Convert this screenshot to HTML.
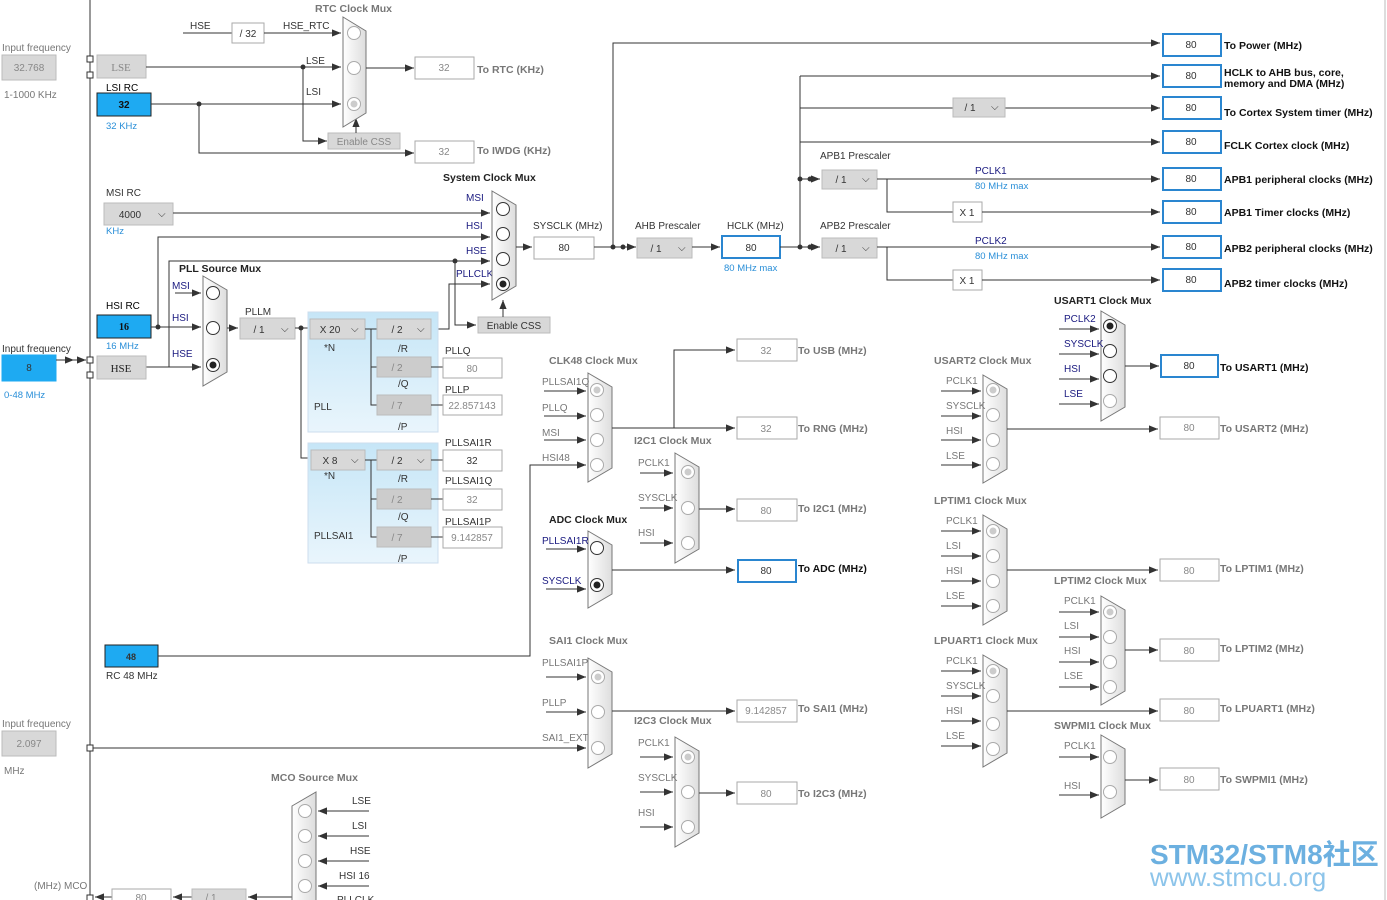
<!DOCTYPE html>
<html><head><meta charset="utf-8"><style>
html,body{margin:0;padding:0;background:#fff;}
svg{display:block;font-family:"Liberation Sans","Noto Sans CJK SC",sans-serif;}
.t{font-size:10px;fill:#333}
.g{font-size:10px;fill:#777}
.b{font-size:10px;fill:#1a1a80}
.lb{font-size:9.5px;fill:#2a8fd8}
.tt{font-size:10.5px;font-weight:bold;fill:#222}
.tg{font-size:10.5px;font-weight:bold;fill:#777}
.ob{font-size:10.5px;font-weight:bold;fill:#111}
.og{font-size:10.5px;font-weight:bold;fill:#777}
.v{font-size:10px;fill:#333;text-anchor:middle}
.vg{font-size:10px;fill:#888;text-anchor:middle}
line,polyline{stroke:#333;stroke-width:1;fill:none}
.mux{fill:url(#mg);stroke:#777;stroke-width:1}
.c{fill:#fff;stroke:#333;stroke-width:1}
.cg{fill:#fff;stroke:#aaa;stroke-width:1}
.box{fill:#fff;stroke:#aaa}
.bbox{fill:#fff;stroke:#2a86d0;stroke-width:2}
.gbox{fill:#d8d8d8;stroke:#bbb}
.blue{fill:#1eaaf2;stroke:#222}
</style></head><body>
<svg width="1387" height="900" viewBox="0 0 1387 900">
<defs>
<marker id="a" viewBox="0 0 10 10" refX="10" refY="5" markerWidth="9" markerHeight="9" markerUnits="userSpaceOnUse" orient="auto"><path d="M0,1 L10,5 L0,9 z" fill="#333"/></marker>
<linearGradient id="mg" x1="0" x2="1"><stop offset="0" stop-color="#fff"/><stop offset="1" stop-color="#ddd"/></linearGradient>
<linearGradient id="pg" x1="0" y1="0" x2="0" y2="1"><stop offset="0" stop-color="#c6e6f7"/><stop offset="1" stop-color="#e9f5fc"/></linearGradient>
</defs>
<line x1="90" y1="0" x2="90" y2="900"/>
<line x1="1385" y1="0" x2="1385" y2="900" style="stroke:#bbb"/>

<text class="g" x="2" y="51">Input frequency</text>
<rect class="gbox" x="2" y="55" width="54" height="25"/><text class="vg" x="29" y="71">32.768</text>
<text class="g" x="4" y="98">1-1000 KHz</text>
<rect x="87" y="56" width="6" height="6" fill="#fff" stroke="#333"/><rect x="87" y="72" width="6" height="6" fill="#fff" stroke="#333"/>
<rect class="gbox" x="97" y="55" width="49" height="23"/><text x="121" y="71" style="font-family:'Liberation Serif',serif;font-size:11px;fill:#888" text-anchor="middle">LSE</text>
<text class="t" x="106" y="91" style="fill:#000">LSI RC</text>
<rect class="blue" x="97" y="93" width="54" height="23"/><text class="v" x="124" y="108" style="font-weight:bold;fill:#111">32</text>
<text class="lb" x="106" y="129">32 KHz</text>

<text class="t" x="190" y="29">HSE</text>
<line x1="183" y1="33" x2="232" y2="33"/>
<rect class="box" x="232" y="23" width="32" height="20"/><text class="v" x="248" y="37">/ 32</text>
<text class="t" x="283" y="29">HSE_RTC</text>
<line x1="264" y1="33" x2="341" y2="33" marker-end="url(#a)"/>
<line x1="146" y1="67" x2="341" y2="67" marker-end="url(#a)"/>
<circle cx="303" cy="67" r="2.5" fill="#333"/>
<text class="t" x="306" y="64">LSE</text>
<polyline points="303,67 303,141 327,141" marker-end="url(#a)"/>
<line x1="151" y1="104" x2="341" y2="104" marker-end="url(#a)"/>
<circle cx="199" cy="104" r="2.5" fill="#333"/>
<text class="t" x="306" y="95">LSI</text>
<polyline points="199,104 199,153 414,153" marker-end="url(#a)"/>
<rect class="gbox" x="328" y="133" width="72" height="16"/><text class="vg" x="364" y="145">Enable CSS</text>
<line x1="356" y1="133" x2="356" y2="118" marker-end="url(#a)"/>
<text class="tg" x="315" y="12">RTC Clock Mux</text>
<polygon class="mux" points="343,17 366,31 366,113 343,127"/>
<circle class="cg" cx="354" cy="33" r="6.5"/><circle class="cg" cx="354" cy="68" r="6.5"/><circle class="cg" cx="354" cy="104" r="6.5"/><circle cx="354" cy="104" r="3.5" fill="#ccc"/>
<line x1="366" y1="68" x2="414" y2="68" marker-end="url(#a)"/>
<rect class="box" x="415" y="57" width="59" height="22"/><text class="vg" x="444" y="71">32</text>
<text class="og" x="477" y="73">To RTC (KHz)</text>
<rect class="box" x="415" y="141" width="59" height="22"/><text class="vg" x="444" y="155">32</text>
<text class="og" x="477" y="154">To IWDG (KHz)</text>

<text class="t" x="106" y="196">MSI RC</text>
<rect class="gbox" x="104" y="203" width="69" height="22"/><text class="v" x="130" y="218">4000</text><text class="t" x="158" y="217">⌵</text>
<text class="lb" x="106" y="234">KHz</text>
<line x1="173" y1="213" x2="490" y2="213" marker-end="url(#a)"/>
<text class="b" x="466" y="201">MSI</text>
<polyline points="158,327 158,237 490,237" marker-end="url(#a)"/>
<text class="b" x="466" y="229">HSI</text>
<polyline points="146,367 169,367 169,261 490,261" marker-end="url(#a)"/>
<text class="b" x="466" y="254">HSE</text>
<circle cx="455" cy="261" r="2.5" fill="#333"/>
<polyline points="455,261 455,325 476,325" marker-end="url(#a)"/>
<rect class="gbox" x="478" y="317" width="72" height="16"/><text class="v" x="514" y="329">Enable CSS</text>
<polyline points="431,329 449,329 449,284 490,284" marker-end="url(#a)"/>
<text class="b" x="456" y="277">PLLCLK</text>
<line x1="503" y1="317" x2="503" y2="300" marker-end="url(#a)"/>
<text class="tt" x="443" y="181">System Clock Mux</text>
<polygon class="mux" points="492,191 516,205 516,286 492,300"/>
<circle class="c" cx="503" cy="209" r="6.5"/><circle class="c" cx="503" cy="234" r="6.5"/><circle class="c" cx="503" cy="259" r="6.5"/><circle class="c" cx="503" cy="284" r="6.5"/><circle cx="503" cy="284" r="3.5" fill="#222"/>

<text class="t" x="106" y="309" style="fill:#000">HSI RC</text>
<rect class="blue" x="97" y="315" width="54" height="23"/><text class="v" x="124" y="330" style="font-weight:bold;fill:#111;font-family:'Liberation Serif',serif">16</text>
<text class="lb" x="106" y="349">16 MHz</text>
<line x1="151" y1="327" x2="201" y2="327" marker-end="url(#a)"/>
<circle cx="158" cy="327" r="2.5" fill="#333"/>
<line x1="175" y1="293" x2="201" y2="293" marker-end="url(#a)"/>
<text class="b" x="172" y="289">MSI</text><text class="b" x="172" y="321">HSI</text><text class="b" x="172" y="357">HSE</text>
<line x1="146" y1="367" x2="201" y2="367" marker-end="url(#a)"/>
<text class="g" x="2" y="352" style="fill:#333">Input frequency</text>
<rect class="blue" x="2" y="355" width="54" height="26" style="stroke:#1eaaf2"/><text class="v" x="29" y="371">8</text>
<text class="lb" x="4" y="398">0-48 MHz</text>
<line x1="56" y1="360" x2="74" y2="360" marker-end="url(#a)"/><line x1="70" y1="360" x2="86" y2="360" marker-end="url(#a)"/>
<rect x="87" y="357" width="6" height="6" fill="#fff" stroke="#333"/><rect x="87" y="372" width="6" height="6" fill="#fff" stroke="#333"/>
<rect class="gbox" x="97" y="356" width="49" height="23"/><text x="121" y="372" style="font-family:'Liberation Serif',serif;font-size:11px;fill:#222" text-anchor="middle">HSE</text>
<text class="tt" x="179" y="272">PLL Source Mux</text>
<polygon class="mux" points="203,276 227,290 227,372 203,386"/>
<circle class="c" cx="213" cy="293" r="6.5"/><circle class="c" cx="213" cy="328" r="6.5"/><circle class="c" cx="213" cy="365" r="6.5"/><circle cx="213" cy="365" r="3.5" fill="#222"/>
<line x1="227" y1="328" x2="238" y2="328" marker-end="url(#a)"/>
<text class="t" x="245" y="315">PLLM</text>
<rect class="gbox" x="240" y="318" width="55" height="21"/><text class="v" x="259" y="333">/ 1</text><text class="t" x="281" y="332">⌵</text>
<line x1="295" y1="328" x2="310" y2="328"/><circle cx="301" cy="328" r="2.5" fill="#333"/>
<polyline points="301,328 301,458 311,458"/>

<rect x="308" y="312" width="130" height="120" fill="url(#pg)" stroke="#cde"/>
<rect x="308" y="443" width="130" height="120" fill="url(#pg)" stroke="#cde"/>
<rect class="gbox" x="310" y="319" width="55" height="20"/><text class="v" x="330" y="333">X 20</text><text class="t" x="351" y="332">⌵</text>
<polyline points="365,329 377,329"/><polyline points="371,329 371,405 377,405"/><line x1="371" y1="367" x2="377" y2="367"/>
<rect class="gbox" x="377" y="319" width="54" height="20"/><text class="v" x="397" y="333">/ 2</text><text class="t" x="417" y="332">⌵</text>
<rect class="gbox" x="377" y="357" width="54" height="20" style="fill:#ccc"/><text class="vg" x="397" y="371">/ 2</text>
<rect class="gbox" x="377" y="395" width="54" height="20" style="fill:#ccc"/><text class="vg" x="397" y="409">/ 7</text>
<text class="t" x="324" y="351">*N</text><text class="t" x="398" y="352">/R</text><text class="t" x="398" y="387">/Q</text><text class="t" x="398" y="430">/P</text>
<text class="t" x="314" y="410">PLL</text>
<line x1="431" y1="367" x2="443" y2="367"/><line x1="431" y1="405" x2="443" y2="405"/>
<text class="t" x="445" y="354">PLLQ</text><rect class="box" x="443" y="358" width="59" height="20"/><text class="vg" x="472" y="372">80</text>
<text class="t" x="445" y="393">PLLP</text><rect class="box" x="443" y="395" width="59" height="20"/><text class="vg" x="472" y="409">22.857143</text>
<rect class="gbox" x="311" y="450" width="54" height="20"/><text class="v" x="330" y="464">X 8</text><text class="t" x="351" y="463">⌵</text>
<polyline points="365,460 377,460"/><polyline points="371,460 371,537 377,537"/><line x1="371" y1="499" x2="377" y2="499"/>
<rect class="gbox" x="377" y="450" width="54" height="20"/><text class="v" x="397" y="464">/ 2</text><text class="t" x="417" y="463">⌵</text>
<rect class="gbox" x="377" y="489" width="54" height="20" style="fill:#ccc"/><text class="vg" x="397" y="503">/ 2</text>
<rect class="gbox" x="377" y="527" width="54" height="20" style="fill:#ccc"/><text class="vg" x="397" y="541">/ 7</text>
<text class="t" x="324" y="479">*N</text><text class="t" x="398" y="482">/R</text><text class="t" x="398" y="520">/Q</text><text class="t" x="398" y="562">/P</text>
<text class="t" x="314" y="539">PLLSAI1</text>
<line x1="431" y1="460" x2="443" y2="460"/><line x1="431" y1="499" x2="443" y2="499"/><line x1="431" y1="537" x2="443" y2="537"/>
<text class="t" x="445" y="446">PLLSAI1R</text><rect class="box" x="443" y="450" width="59" height="21"/><text class="v" x="472" y="464">32</text>
<text class="t" x="445" y="484">PLLSAI1Q</text><rect class="box" x="443" y="489" width="59" height="21"/><text class="vg" x="472" y="503">32</text>
<text class="t" x="445" y="525">PLLSAI1P</text><rect class="box" x="443" y="527" width="59" height="21"/><text class="vg" x="472" y="541">9.142857</text>

<line x1="516" y1="247" x2="532" y2="247" marker-end="url(#a)"/>
<text class="t" x="533" y="229">SYSCLK (MHz)</text>
<rect class="box" x="534" y="237" width="60" height="22"/><text class="v" x="564" y="251">80</text>
<line x1="594" y1="247" x2="636" y2="247" marker-end="url(#a)"/>
<circle cx="613" cy="247" r="2.5" fill="#333"/><circle cx="623" cy="247" r="2.5" fill="#333"/>
<polyline points="613,247 613,43 1160,43" marker-end="url(#a)"/>
<text class="t" x="635" y="229">AHB Prescaler</text>
<rect class="gbox" x="637" y="238" width="55" height="20"/><text class="v" x="656" y="252">/ 1</text><text class="t" x="678" y="251">⌵</text>
<line x1="692" y1="247" x2="720" y2="247" marker-end="url(#a)"/>
<text class="t" x="727" y="229">HCLK (MHz)</text>
<rect class="bbox" x="722" y="236" width="58" height="22"/><text class="v" x="751" y="251">80</text>
<text class="lb" x="724" y="271">80 MHz max</text>
<line x1="780" y1="247" x2="820" y2="247" marker-end="url(#a)"/>
<circle cx="800" cy="247" r="2.5" fill="#333"/><circle cx="810" cy="247" r="2.5" fill="#333"/>
<line x1="800" y1="247" x2="800" y2="76"/>
<line x1="800" y1="76" x2="1160" y2="76" marker-end="url(#a)"/>
<line x1="800" y1="108" x2="953" y2="108"/><line x1="1005" y1="108" x2="1160" y2="108" marker-end="url(#a)"/>
<rect class="gbox" x="953" y="98" width="52" height="19"/><text class="v" x="970" y="111">/ 1</text><text class="t" x="991" y="110">⌵</text>
<line x1="800" y1="142" x2="1160" y2="142" marker-end="url(#a)"/>
<line x1="800" y1="179" x2="820" y2="179" marker-end="url(#a)"/>
<circle cx="800" cy="179" r="2.5" fill="#333"/><circle cx="810" cy="179" r="2.5" fill="#333"/>
<text class="t" x="820" y="159">APB1 Prescaler</text>
<rect class="gbox" x="822" y="170" width="55" height="19"/><text class="v" x="841" y="183">/ 1</text><text class="t" x="862" y="182">⌵</text>
<line x1="877" y1="179" x2="1160" y2="179" marker-end="url(#a)"/>
<text class="b" x="975" y="174">PCLK1</text><text class="lb" x="975" y="189">80 MHz max</text>
<polyline points="887,179 887,212 953,212"/>
<rect class="box" x="953" y="202" width="29" height="20"/><text class="v" x="967" y="216">X 1</text>
<line x1="982" y1="212" x2="1160" y2="212" marker-end="url(#a)"/>
<text class="t" x="820" y="229">APB2 Prescaler</text>
<rect class="gbox" x="822" y="238" width="55" height="20"/><text class="v" x="841" y="252">/ 1</text><text class="t" x="862" y="251">⌵</text>
<line x1="877" y1="247" x2="1160" y2="247" marker-end="url(#a)"/>
<text class="b" x="975" y="244">PCLK2</text><text class="lb" x="975" y="259">80 MHz max</text>
<polyline points="887,247 887,280 953,280"/>
<rect class="box" x="953" y="270" width="29" height="20"/><text class="v" x="967" y="284">X 1</text>
<line x1="982" y1="280" x2="1160" y2="280" marker-end="url(#a)"/>

<rect class="bbox" x="1163" y="34" width="58" height="22"/><text class="v" x="1191" y="48">80</text><text class="ob" x="1224" y="49">To Power (MHz)</text>
<rect class="bbox" x="1163" y="65" width="58" height="22"/><text class="v" x="1191" y="79">80</text><text class="ob" x="1224" y="76">HCLK to AHB bus, core,</text><text class="ob" x="1224" y="87">memory and DMA (MHz)</text>
<rect class="bbox" x="1163" y="97" width="58" height="22"/><text class="v" x="1191" y="111">80</text><text class="ob" x="1224" y="116">To Cortex System timer (MHz)</text>
<rect class="bbox" x="1163" y="131" width="58" height="22"/><text class="v" x="1191" y="145">80</text><text class="ob" x="1224" y="149">FCLK Cortex clock (MHz)</text>
<rect class="bbox" x="1163" y="168" width="58" height="22"/><text class="v" x="1191" y="182">80</text><text class="ob" x="1224" y="183">APB1 peripheral clocks (MHz)</text>
<rect class="bbox" x="1163" y="201" width="58" height="22"/><text class="v" x="1191" y="215">80</text><text class="ob" x="1224" y="216">APB1 Timer clocks (MHz)</text>
<rect class="bbox" x="1163" y="236" width="58" height="22"/><text class="v" x="1191" y="250">80</text><text class="ob" x="1224" y="252">APB2 peripheral clocks (MHz)</text>
<rect class="bbox" x="1163" y="269" width="58" height="22"/><text class="v" x="1191" y="283">80</text><text class="ob" x="1224" y="287">APB2 timer clocks (MHz)</text>

<text class="tg" x="549" y="364">CLK48 Clock Mux</text>
<polygon class="mux" points="588,373 612,387 612,468 588,482"/>
<circle class="cg" cx="597" cy="390" r="6.5"/><circle cx="597" cy="390" r="3.5" fill="#ccc"/><circle class="cg" cx="597" cy="415" r="6.5"/><circle class="cg" cx="597" cy="440" r="6.5"/><circle class="cg" cx="597" cy="465" r="6.5"/>
<text class="g" x="542" y="385">PLLSAI1Q</text><line x1="544" y1="391" x2="586" y2="391" marker-end="url(#a)"/>
<text class="g" x="542" y="411">PLLQ</text><line x1="544" y1="416" x2="586" y2="416" marker-end="url(#a)"/>
<text class="g" x="542" y="436">MSI</text><line x1="544" y1="440" x2="586" y2="440" marker-end="url(#a)"/>
<text class="g" x="542" y="461">HSI48</text>
<rect class="blue" x="105" y="645" width="53" height="22"/><text class="v" x="131" y="660" style="font-size:9px;font-weight:bold">48</text>
<text class="t" x="106" y="679">RC 48 MHz</text>
<polyline points="158,656 530,656 530,465 586,465" marker-end="url(#a)"/>
<line x1="612" y1="428" x2="735" y2="428" marker-end="url(#a)"/>
<polyline points="674,428 674,350 735,350" marker-end="url(#a)"/>
<rect class="box" x="737" y="339" width="60" height="22"/><text class="vg" x="766" y="354">32</text><text class="og" x="798" y="354">To USB (MHz)</text>
<rect class="box" x="737" y="417" width="60" height="22"/><text class="vg" x="766" y="432">32</text><text class="og" x="798" y="432">To RNG (MHz)</text>

<text class="tg" x="634" y="444">I2C1 Clock Mux</text>
<polygon class="mux" points="675,453 699,467 699,549 675,563"/>
<circle class="cg" cx="688" cy="472" r="6.5"/><circle cx="688" cy="472" r="3.5" fill="#ccc"/><circle class="cg" cx="688" cy="508" r="6.5"/><circle class="cg" cx="688" cy="543" r="6.5"/>
<text class="g" x="638" y="466">PCLK1</text><line x1="640" y1="473" x2="673" y2="473" marker-end="url(#a)"/>
<text class="g" x="638" y="501">SYSCLK</text><line x1="640" y1="508" x2="673" y2="508" marker-end="url(#a)"/>
<text class="g" x="638" y="536">HSI</text><line x1="640" y1="543" x2="673" y2="543" marker-end="url(#a)"/>
<line x1="699" y1="509" x2="735" y2="509" marker-end="url(#a)"/>
<rect class="box" x="737" y="499" width="60" height="22"/><text class="vg" x="766" y="514">80</text><text class="og" x="798" y="512">To I2C1 (MHz)</text>

<text class="tt" x="549" y="523">ADC Clock Mux</text>
<polygon class="mux" points="588,531 612,545 612,594 588,608"/>
<circle class="c" cx="597" cy="548" r="6.5"/><circle class="c" cx="597" cy="585" r="6.5"/><circle cx="597" cy="585" r="3.5" fill="#222"/>
<text class="b" x="542" y="544">PLLSAI1R</text><line x1="546" y1="549" x2="586" y2="549" marker-end="url(#a)"/>
<text class="b" x="542" y="584">SYSCLK</text><line x1="546" y1="589" x2="586" y2="589" marker-end="url(#a)"/>
<line x1="612" y1="570" x2="735" y2="570" marker-end="url(#a)"/>
<rect class="bbox" x="738" y="560" width="58" height="22"/><text class="v" x="766" y="574">80</text><text class="ob" x="798" y="572">To ADC (MHz)</text>

<text class="tg" x="549" y="644">SAI1 Clock Mux</text>
<polygon class="mux" points="588,658 612,672 612,754 588,768"/>
<circle class="cg" cx="598" cy="677" r="6.5"/><circle cx="598" cy="677" r="3.5" fill="#ccc"/><circle class="cg" cx="598" cy="712" r="6.5"/><circle class="cg" cx="598" cy="748" r="6.5"/>
<text class="g" x="542" y="666">PLLSAI1P</text><line x1="546" y1="677" x2="586" y2="677" marker-end="url(#a)"/>
<text class="g" x="542" y="706">PLLP</text><line x1="546" y1="712" x2="586" y2="712" marker-end="url(#a)"/>
<text class="g" x="542" y="741">SAI1_EXT</text>
<line x1="90" y1="748" x2="586" y2="748" marker-end="url(#a)"/>
<rect x="87" y="745" width="6" height="6" fill="#fff" stroke="#333"/>
<line x1="612" y1="711" x2="735" y2="711" marker-end="url(#a)"/>
<rect class="box" x="737" y="700" width="60" height="22"/><text class="vg" x="766" y="714">9.142857</text><text class="og" x="798" y="712">To SAI1 (MHz)</text>

<text class="tg" x="634" y="724">I2C3 Clock Mux</text>
<polygon class="mux" points="675,737 699,751 699,833 675,847"/>
<circle class="cg" cx="688" cy="757" r="6.5"/><circle cx="688" cy="757" r="3.5" fill="#ccc"/><circle class="cg" cx="688" cy="792" r="6.5"/><circle class="cg" cx="688" cy="827" r="6.5"/>
<text class="g" x="638" y="746">PCLK1</text><line x1="640" y1="757" x2="673" y2="757" marker-end="url(#a)"/>
<text class="g" x="638" y="781">SYSCLK</text><line x1="640" y1="792" x2="673" y2="792" marker-end="url(#a)"/>
<text class="g" x="638" y="816">HSI</text><line x1="640" y1="827" x2="673" y2="827" marker-end="url(#a)"/>
<line x1="699" y1="793" x2="735" y2="793" marker-end="url(#a)"/>
<rect class="box" x="737" y="782" width="60" height="22"/><text class="vg" x="766" y="797">80</text><text class="og" x="798" y="797">To I2C3 (MHz)</text>

<text class="g" x="2" y="727">Input frequency</text>
<rect class="gbox" x="2" y="731" width="54" height="25"/><text class="vg" x="29" y="747">2.097</text>
<text class="g" x="4" y="774">MHz</text>
<text class="g" x="34" y="889">(MHz) MCO</text>
<rect x="87" y="895" width="6" height="6" fill="#fff" stroke="#333"/>
<line x1="112" y1="897" x2="95" y2="897" marker-end="url(#a)"/>
<rect class="box" x="112" y="889" width="59" height="15"/><text class="vg" x="141" y="901">80</text>
<line x1="192" y1="897" x2="173" y2="897" marker-end="url(#a)"/>
<rect class="gbox" x="192" y="889" width="54" height="15"/><text class="vg" x="211" y="901">/ 1</text>
<line x1="292" y1="897" x2="248" y2="897" marker-end="url(#a)"/>
<text class="tg" x="271" y="781">MCO Source Mux</text>
<polygon class="mux" points="316,792 316,905 292,905 292,806"/>
<circle class="cg" cx="305" cy="811" r="6.5"/><circle class="cg" cx="305" cy="836" r="6.5"/><circle class="cg" cx="305" cy="861" r="6.5"/><circle class="cg" cx="305" cy="886" r="6.5"/>
<text class="t" x="352" y="804">LSE</text><line x1="369" y1="811" x2="318" y2="811" marker-end="url(#a)"/>
<text class="t" x="352" y="829">LSI</text><line x1="369" y1="836" x2="318" y2="836" marker-end="url(#a)"/>
<text class="t" x="350" y="854">HSE</text><line x1="369" y1="861" x2="318" y2="861" marker-end="url(#a)"/>
<text class="t" x="339" y="879">HSI 16</text><line x1="369" y1="886" x2="318" y2="886" marker-end="url(#a)"/>
<text class="t" x="337" y="903">PLLCLK</text>

<text class="tt" x="1054" y="304">USART1 Clock Mux</text>
<polygon class="mux" points="1101,311 1125,325 1125,407 1101,421"/>
<circle class="c" cx="1110" cy="326" r="6.5"/><circle cx="1110" cy="326" r="3.5" fill="#222"/><circle class="c" cx="1110" cy="351" r="6.5"/><circle class="c" cx="1110" cy="376" r="6.5"/><circle class="cg" cx="1110" cy="401" r="6.5"/>
<text class="b" x="1064" y="322">PCLK2</text><line x1="1059" y1="329" x2="1099" y2="329" marker-end="url(#a)"/>
<text class="b" x="1064" y="347">SYSCLK</text><line x1="1059" y1="354" x2="1099" y2="354" marker-end="url(#a)"/>
<text class="b" x="1064" y="372">HSI</text><line x1="1059" y1="379" x2="1099" y2="379" marker-end="url(#a)"/>
<text class="b" x="1064" y="397">LSE</text><line x1="1059" y1="404" x2="1099" y2="404" marker-end="url(#a)"/>
<line x1="1125" y1="366" x2="1159" y2="366" marker-end="url(#a)"/>
<rect class="bbox" x="1161" y="355" width="57" height="22"/><text class="v" x="1189" y="369">80</text><text class="ob" x="1220" y="371">To USART1 (MHz)</text>

<text class="tg" x="934" y="364">USART2 Clock Mux</text>
<polygon class="mux" points="983,375 1007,389 1007,469 983,483"/>
<circle class="cg" cx="993" cy="390" r="6.5"/><circle cx="993" cy="390" r="3.5" fill="#ccc"/><circle class="cg" cx="993" cy="415" r="6.5"/><circle class="cg" cx="993" cy="440" r="6.5"/><circle class="cg" cx="993" cy="464" r="6.5"/>
<text class="g" x="946" y="384">PCLK1</text><line x1="941" y1="391" x2="981" y2="391" marker-end="url(#a)"/>
<text class="g" x="946" y="409">SYSCLK</text><line x1="941" y1="416" x2="981" y2="416" marker-end="url(#a)"/>
<text class="g" x="946" y="434">HSI</text><line x1="941" y1="440" x2="981" y2="440" marker-end="url(#a)"/>
<text class="g" x="946" y="459">LSE</text><line x1="941" y1="465" x2="981" y2="465" marker-end="url(#a)"/>
<line x1="1007" y1="429" x2="1158" y2="429" marker-end="url(#a)"/>
<rect class="box" x="1160" y="417" width="59" height="22"/><text class="vg" x="1189" y="431">80</text><text class="og" x="1220" y="432">To USART2 (MHz)</text>

<text class="tg" x="934" y="504">LPTIM1 Clock Mux</text>
<polygon class="mux" points="983,515 1007,529 1007,611 983,625"/>
<circle class="cg" cx="993" cy="531" r="6.5"/><circle cx="993" cy="531" r="3.5" fill="#ccc"/><circle class="cg" cx="993" cy="556" r="6.5"/><circle class="cg" cx="993" cy="581" r="6.5"/><circle class="cg" cx="993" cy="606" r="6.5"/>
<text class="g" x="946" y="524">PCLK1</text><line x1="941" y1="531" x2="981" y2="531" marker-end="url(#a)"/>
<text class="g" x="946" y="549">LSI</text><line x1="941" y1="556" x2="981" y2="556" marker-end="url(#a)"/>
<text class="g" x="946" y="574">HSI</text><line x1="941" y1="581" x2="981" y2="581" marker-end="url(#a)"/>
<text class="g" x="946" y="599">LSE</text><line x1="941" y1="606" x2="981" y2="606" marker-end="url(#a)"/>
<line x1="1007" y1="570" x2="1158" y2="570" marker-end="url(#a)"/>
<rect class="box" x="1160" y="559" width="59" height="22"/><text class="vg" x="1189" y="574">80</text><text class="og" x="1220" y="572">To LPTIM1 (MHz)</text>

<text class="tg" x="1054" y="584">LPTIM2 Clock Mux</text>
<polygon class="mux" points="1101,596 1125,610 1125,691 1101,705"/>
<circle class="cg" cx="1110" cy="612" r="6.5"/><circle cx="1110" cy="612" r="3.5" fill="#ccc"/><circle class="cg" cx="1110" cy="637" r="6.5"/><circle class="cg" cx="1110" cy="662" r="6.5"/><circle class="cg" cx="1110" cy="687" r="6.5"/>
<text class="g" x="1064" y="604">PCLK1</text><line x1="1059" y1="612" x2="1099" y2="612" marker-end="url(#a)"/>
<text class="g" x="1064" y="629">LSI</text><line x1="1059" y1="637" x2="1099" y2="637" marker-end="url(#a)"/>
<text class="g" x="1064" y="654">HSI</text><line x1="1059" y1="662" x2="1099" y2="662" marker-end="url(#a)"/>
<text class="g" x="1064" y="679">LSE</text><line x1="1059" y1="687" x2="1099" y2="687" marker-end="url(#a)"/>
<line x1="1125" y1="650" x2="1158" y2="650" marker-end="url(#a)"/>
<rect class="box" x="1160" y="639" width="59" height="22"/><text class="vg" x="1189" y="654">80</text><text class="og" x="1220" y="652">To LPTIM2 (MHz)</text>

<text class="tg" x="934" y="644">LPUART1 Clock Mux</text>
<polygon class="mux" points="983,655 1007,669 1007,753 983,767"/>
<circle class="cg" cx="993" cy="671" r="6.5"/><circle cx="993" cy="671" r="3.5" fill="#ccc"/><circle class="cg" cx="993" cy="696" r="6.5"/><circle class="cg" cx="993" cy="724" r="6.5"/><circle class="cg" cx="993" cy="749" r="6.5"/>
<text class="g" x="946" y="664">PCLK1</text><line x1="941" y1="671" x2="981" y2="671" marker-end="url(#a)"/>
<text class="g" x="946" y="689">SYSCLK</text><line x1="941" y1="696" x2="981" y2="696" marker-end="url(#a)"/>
<text class="g" x="946" y="714">HSI</text><line x1="941" y1="721" x2="981" y2="721" marker-end="url(#a)"/>
<text class="g" x="946" y="739">LSE</text><line x1="941" y1="746" x2="981" y2="746" marker-end="url(#a)"/>
<line x1="1007" y1="711" x2="1158" y2="711" marker-end="url(#a)"/>
<rect class="box" x="1160" y="699" width="59" height="22"/><text class="vg" x="1189" y="714">80</text><text class="og" x="1220" y="712">To LPUART1 (MHz)</text>

<text class="tg" x="1054" y="729">SWPMI1 Clock Mux</text>
<polygon class="mux" points="1101,735 1125,749 1125,804 1101,818"/>
<circle class="cg" cx="1110" cy="757" r="6.5"/><circle class="cg" cx="1110" cy="792" r="6.5"/>
<text class="g" x="1064" y="749">PCLK1</text><line x1="1059" y1="757" x2="1099" y2="757" marker-end="url(#a)"/>
<text class="g" x="1064" y="789">HSI</text><line x1="1059" y1="795" x2="1099" y2="795" marker-end="url(#a)"/>
<line x1="1125" y1="780" x2="1158" y2="780" marker-end="url(#a)"/>
<rect class="box" x="1160" y="768" width="59" height="22"/><text class="vg" x="1189" y="783">80</text><text class="og" x="1220" y="783">To SWPMI1 (MHz)</text>

<text x="1150" y="864" style="font-size:28px;font-weight:bold;fill:#6cb0e0">STM32/STM8社区</text>
<text x="1150" y="886" style="font-size:26px;fill:#8cc4ea">www.stmcu.org</text>
</svg>
</body></html>
